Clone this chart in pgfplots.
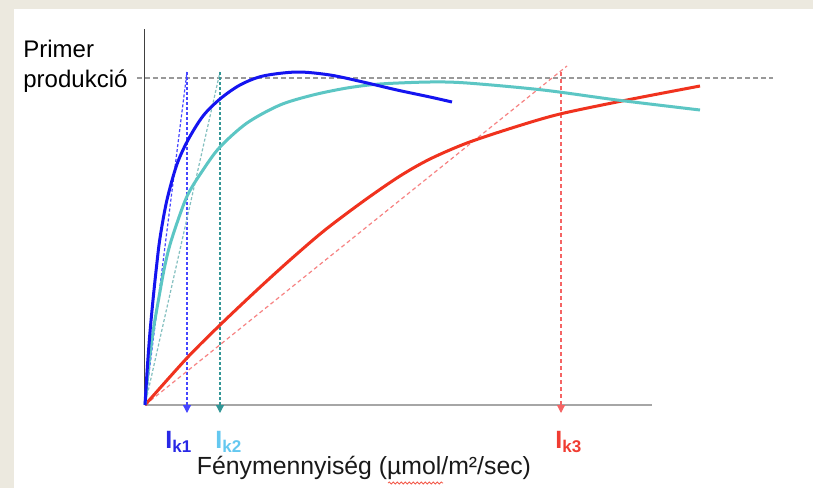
\documentclass[border=0pt]{standalone}
\usepackage{pgfplots}
\pgfplotsset{compat=1.18}
\usetikzlibrary{arrows.meta,decorations.pathmorphing}
\usepackage{fontspec}
\setmainfont{Liberation Sans}

\definecolor{bgbeige}{RGB}{236,233,223}
\definecolor{cblue}{RGB}{20,20,240}
\definecolor{cteal}{RGB}{92,198,196}
\definecolor{cred}{RGB}{240,50,30}
\definecolor{dblue}{RGB}{70,70,255}
\definecolor{dteal}{RGB}{50,150,150}
\definecolor{dred}{RGB}{245,100,100}
\definecolor{lblue}{RGB}{40,40,230}
\definecolor{lsky}{RGB}{100,200,240}
\definecolor{lred}{RGB}{240,60,50}

\newcommand{\Ik}[1]{{\bfseries I\raisebox{-2pt}{\fontsize{8.5}{9}\selectfont k#1}}}

\begin{document}
\begin{tikzpicture}
% page background (1 px = 0.5pt, origin at the axis corner)
\begin{scope}[x=0.5pt,y=0.5pt]
\fill[bgbeige] (-145,-83) rectangle (668,405);
\fill[white] (-131,-83) rectangle (668,396);
\path[use as bounding box] (-145,-83) rectangle (668,405);
\end{scope}

\begin{axis}[
    scale only axis,
    width=253.5pt, height=188pt,
    xmin=0, xmax=507, ymin=0, ymax=376,
    axis x line=bottom, axis y line=left,
    x axis line style={-, draw=black!35, line width=1pt},
    y axis line style={-, draw=black!75, line width=0.5pt},
    xtick=\empty, ytick=\empty,
    clip=false,
    font=\fontsize{12}{14}\selectfont,
]

% Pmax level
\addplot[draw=black!40, line width=0.8pt, dash pattern=on 2.5pt off 1.5pt]
    coordinates {(-8,327)(628,327)};

% initial slopes and I_k markers
\addplot[draw=dblue, line width=0.6pt, dash pattern=on 1.5pt off 1pt]
    coordinates {(0,0)(42,333)};
\addplot[draw=dblue, line width=0.6pt, dash pattern=on 1.5pt off 1pt,
    -{Triangle[width=4pt,length=4pt]}]
    coordinates {(42,333)(42,-8)};
\addplot[draw=dteal!60, line width=0.6pt, dash pattern=on 1.5pt off 1pt]
    coordinates {(0,0)(75,333)};
\addplot[draw=dteal, line width=0.6pt, dash pattern=on 1.5pt off 1pt,
    -{Triangle[width=4pt,length=4pt]}]
    coordinates {(75,333)(75,-8)};
\addplot[draw=dred!80, line width=0.6pt, dash pattern=on 2pt off 1.5pt]
    coordinates {(0,0)(422,339)};
\addplot[draw=dred, line width=0.6pt, dash pattern=on 2pt off 1.5pt,
    -{Triangle[width=4pt,length=4pt]}]
    coordinates {(416,333)(416,-8)};

% P-I curves
\addplot[cred, line width=1.5pt, smooth] coordinates {
    (0,0)(42,47)(75,80)(112,115)(145,145)(180,175)(220,205)(255,229)
    (285,246)(322,262)(370,278)(415,291)(482,305)(555,319)
};
\addplot[cteal, line width=1.5pt, smooth] coordinates {
    (0,0)(4,42)(8.3,75)(14,108)(20,140)(26.7,166)(41.7,208)(58,235)
    (75,258)(102,282)(135,300)(168,310)(202,317)(235,321)(285,323)
    (322,322)(398,315)(472,305)(555,295)
};
\addplot[cblue, line width=1.5pt, smooth] coordinates {
    (0,0)(2.5,40)(5,73)(8.3,108)(11.7,140)(15,167)(21.7,204)(31.7,240)
    (43,265)(58,289)(75,306)(95,320)(118,329)(152,333)(185,330)
    (218,323)(252,315)(285,308)(307,303)
};

% labels
\node[anchor=base west, inner sep=0pt] at (axis cs:-122,348) {Primer};
\node[anchor=base west, inner sep=0pt] at (axis cs:-122,318) {produkció};
\node[anchor=base, inner sep=0pt, text=black!90, font=\fontsize{12.4}{14}\selectfont]
    at (axis cs:219,-69) {Fénymennyiség (µmol/m²/sec)};
\draw[cred!80, line width=0.4pt, decorate,
    decoration={snake, amplitude=0.5pt, segment length=2pt}]
    (axis cs:243,-78) -- (axis cs:298,-78);
\node[anchor=base west, inner sep=0pt, text=lblue, font=\fontsize{12.5}{14}\selectfont]
    at (axis cs:20,-43) {\Ik{1}};
\node[anchor=base west, inner sep=0pt, text=lsky, font=\fontsize{12.5}{14}\selectfont]
    at (axis cs:70,-43) {\Ik{2}};
\node[anchor=base west, inner sep=0pt, text=lred, font=\fontsize{12.5}{14}\selectfont]
    at (axis cs:410,-43) {\Ik{3}};
\end{axis}
\end{tikzpicture}
\end{document}
